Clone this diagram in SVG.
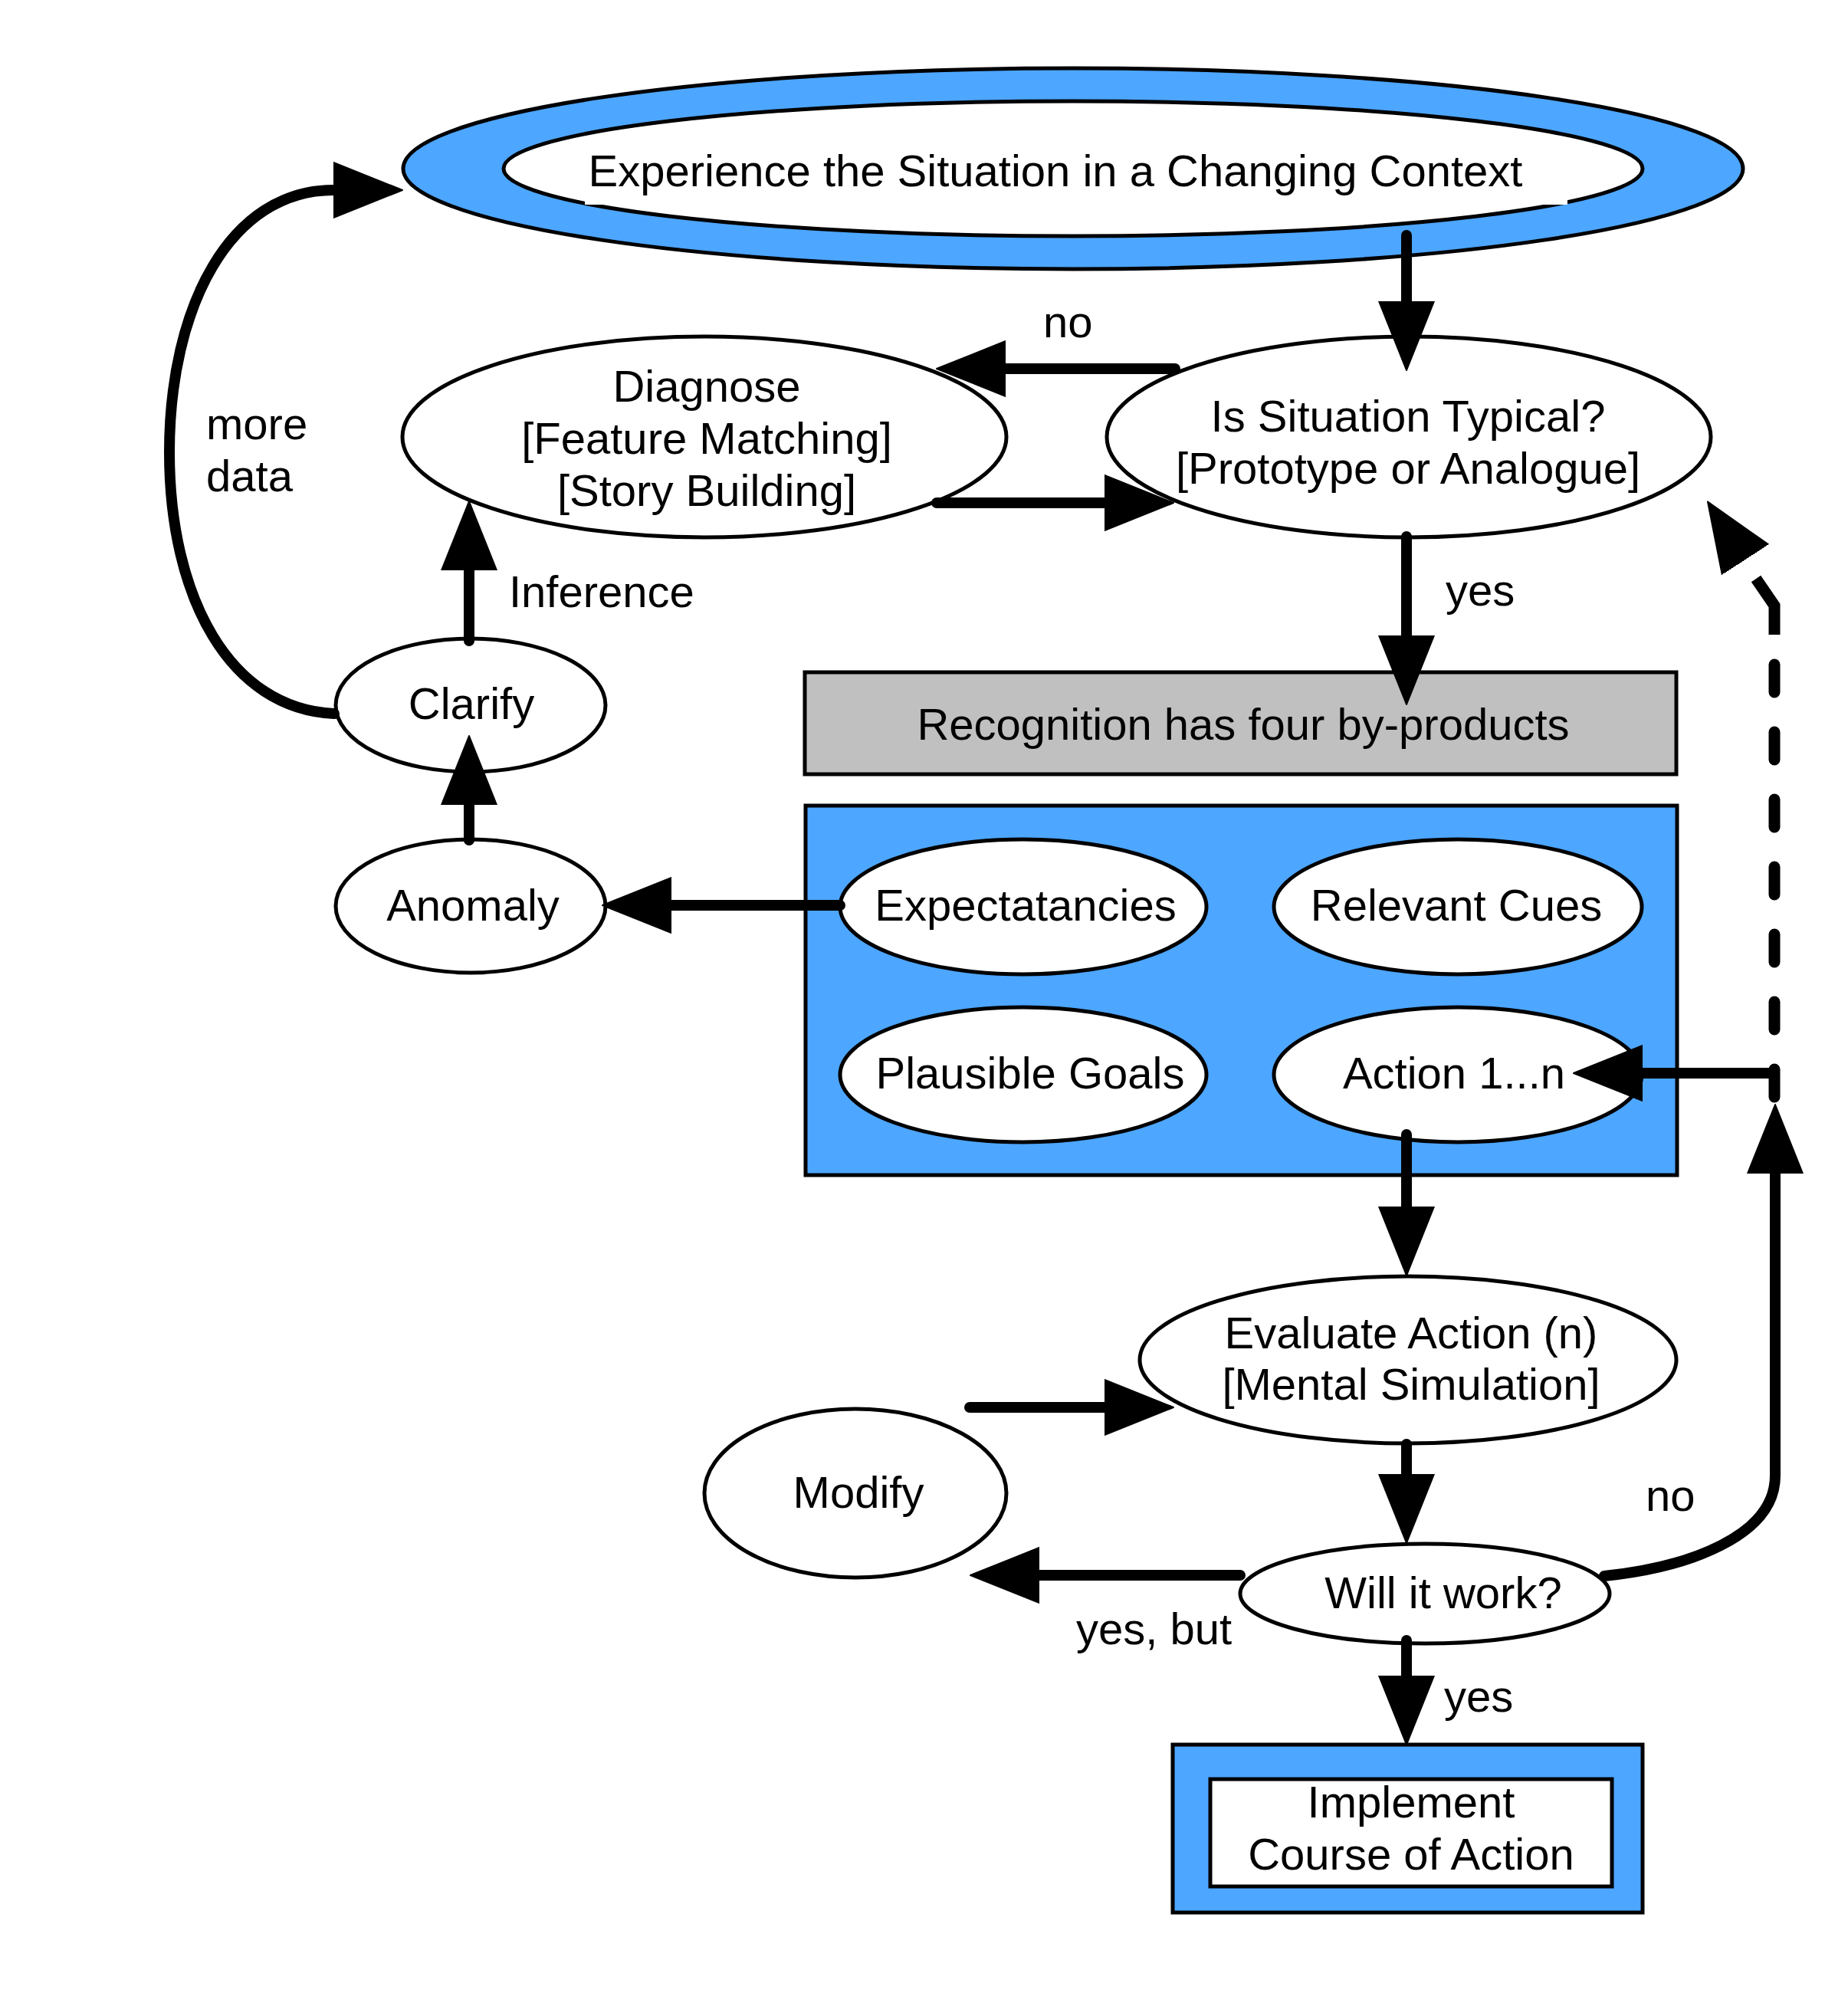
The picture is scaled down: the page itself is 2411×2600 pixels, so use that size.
<svg xmlns="http://www.w3.org/2000/svg" width="2411" height="2600" viewBox="0 0 2411 2600">
<style>
  text { font-family: "Liberation Sans", Arial, sans-serif; font-size: 58px; fill: #000; }
  .c { text-anchor: middle; }
  .node { fill: #fff; stroke: #000; stroke-width: 5; }
  .blue { fill: #4da6ff; stroke: #000; stroke-width: 5; }
  .gray { fill: #c0c0c0; stroke: #000; stroke-width: 5; }
  .edge { fill: none; stroke: #000; stroke-width: 14; stroke-linecap: round; stroke-linejoin: round; }
  .dash { fill: none; stroke: #000; stroke-width: 15; stroke-dasharray: 36 52; stroke-linecap: round; }
  .dashend { fill: none; stroke: #000; stroke-width: 15; stroke-linecap: butt; stroke-linejoin: miter; }
</style>
<defs>
  <marker id="arrow" markerUnits="userSpaceOnUse" viewBox="0 -40 100 80" markerWidth="100" markerHeight="80" refX="0" refY="0" orient="auto">
    <path d="M0,-36 L90,0 L0,36 Z" fill="#000" stroke="#000" stroke-width="2" stroke-linejoin="round"/>
  </marker>
</defs>
<rect width="2411" height="2600" fill="#fff"/>

<g id="experience">
  <ellipse class="blue" cx="1400" cy="220" rx="874" ry="131"/>
  <ellipse class="node" cx="1400" cy="220" rx="743" ry="88"/>
  <rect x="763" y="184" width="1282" height="83" fill="#fff"/>
  <text class="c" x="1377" y="243">Experience the Situation in a Changing Context</text>
</g>

<g id="diagnose">
  <ellipse class="node" cx="919" cy="570" rx="394" ry="131"/>
  <text class="c" x="922" y="524">Diagnose</text>
  <text class="c" x="922" y="592">[Feature Matching]</text>
  <text class="c" x="922" y="660">[Story Building]</text>
</g>

<g id="typical">
  <ellipse class="node" cx="1838" cy="570" rx="394" ry="131"/>
  <text class="c" x="1837" y="563">Is Situation Typical?</text>
  <text class="c" x="1837" y="631">[Prototype or Analogue]</text>
</g>

<g id="recognition">
  <rect class="gray" x="1050" y="877" width="1137" height="133"/>
  <text class="c" x="1622" y="965">Recognition has four by-products</text>
</g>

<g id="byproducts">
  <rect class="blue" x="1051" y="1051" width="1137" height="482"/>
</g>

<g id="expectancies">
  <ellipse class="node" cx="1335" cy="1183" rx="239" ry="88"/>
  <text class="c" x="1338" y="1201">Expectatancies</text>
</g>

<g id="cues">
  <ellipse class="node" cx="1902" cy="1183" rx="240" ry="88"/>
  <text class="c" x="1900" y="1201">Relevant Cues</text>
</g>

<g id="goals">
  <ellipse class="node" cx="1335" cy="1402" rx="239" ry="88"/>
  <text class="c" x="1344" y="1420">Plausible Goals</text>
</g>

<g id="action">
  <ellipse class="node" cx="1902" cy="1402" rx="240" ry="88"/>
  <text class="c" x="1897" y="1420">Action 1...n</text>
</g>

<g id="clarify">
  <ellipse class="node" cx="614" cy="920" rx="176" ry="87"/>
  <text class="c" x="615" y="938">Clarify</text>
</g>

<g id="anomaly">
  <ellipse class="node" cx="614" cy="1182" rx="176" ry="87"/>
  <text class="c" x="617" y="1201">Anomaly</text>
</g>

<g id="evaluate">
  <ellipse class="node" cx="1837" cy="1774" rx="350" ry="109"/>
  <text class="c" x="1841" y="1759">Evaluate Action (n)</text>
  <text class="c" x="1841" y="1826">[Mental Simulation]</text>
</g>

<g id="modify">
  <ellipse class="node" cx="1116" cy="1948" rx="197" ry="110"/>
  <text class="c" x="1120" y="1967">Modify</text>
</g>

<g id="willwork">
  <ellipse class="node" cx="1859" cy="2079" rx="241" ry="65"/>
  <text class="c" x="1883" y="2098">Will it work?</text>
</g>

<g id="implement">
  <rect class="blue" x="1530" y="2276" width="613" height="219"/>
  <rect class="node" x="1579" y="2321" width="524" height="140"/>
  <text class="c" x="1841" y="2371">Implement</text>
  <text class="c" x="1841" y="2439">Course of Action</text>
</g>

<g id="connectors">
  <path class="edge" d="M1835,307 V393" marker-end="url(#arrow)"/>
  <path class="edge" d="M1533,481 H1312" marker-end="url(#arrow)"/>
  <path class="edge" d="M1222,656 H1441" marker-end="url(#arrow)"/>
  <path class="edge" d="M1835,700 V829" marker-end="url(#arrow)"/>
  <path class="edge" d="M612,836 V744" marker-end="url(#arrow)"/>
  <path class="edge" d="M612,1096 V1050" marker-end="url(#arrow)"/>
  <path class="edge" d="M436,931 C300,925 221,780 221,590 C221,400 300,248 435,248" marker-end="url(#arrow)"/>
  <path class="edge" d="M1096,1181 H876" marker-end="url(#arrow)"/>
  <path class="edge" d="M1835,1480 V1574" marker-end="url(#arrow)"/>
  <path class="edge" d="M1835,1884 V1923" marker-end="url(#arrow)"/>
  <path class="edge" d="M1835,2140 V2186" marker-end="url(#arrow)"/>
  <path class="edge" d="M1618,2055 H1356" marker-end="url(#arrow)"/>
  <path class="edge" d="M1265,1836 H1441" marker-end="url(#arrow)"/>
  <path class="edge" d="M2093,2056 C2200,2045 2316,2005 2316,1925 V1531" marker-end="url(#arrow)"/>
  <path class="edge" d="M2315,1400 H2143" marker-end="url(#arrow)"/>
  <path class="dash" d="M2315,1431 V860"/>
  <path class="dashend" d="M2315,828 V790 L2291,755"/>
  <path d="M2327,807 L2277,730" fill="none" stroke="none" marker-end="url(#arrow)"/>
</g>

<g id="labels">
  <text x="1361" y="440">no</text>
  <text x="269" y="573">more</text>
  <text x="269" y="641">data</text>
  <text x="664" y="792">Inference</text>
  <text x="1886" y="790">yes</text>
  <text x="2147" y="1971">no</text>
  <text x="1404" y="2145">yes, but</text>
  <text x="1884" y="2233">yes</text>
</g>
</svg>
